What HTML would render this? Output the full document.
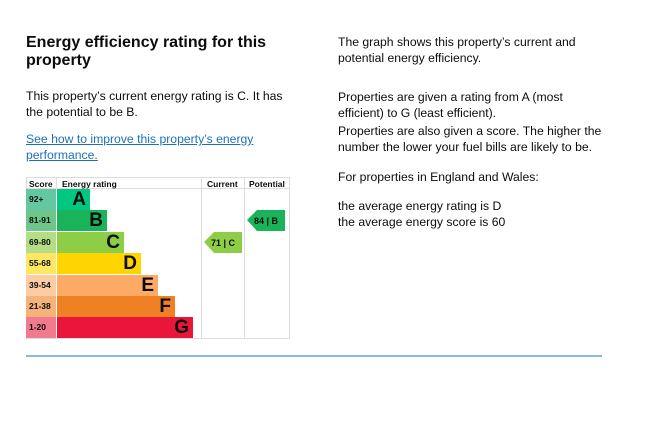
<!DOCTYPE html>
<html><head><style>
body{margin:0;width:645px;height:430px;background:#fff;font-family:"Liberation Sans",Arial,sans-serif;color:#0b0c0c;position:relative;overflow:hidden}
.t{position:absolute;white-space:nowrap}
h1{position:absolute;left:26px;top:34px;margin:0;font-size:16px;line-height:18px;font-weight:bold}
.p{font-size:12.2px;line-height:16px}
a{color:#1d70b8;text-decoration:underline}
.row{position:absolute;left:26px;height:21px;font-size:8.5px;font-weight:bold}
.sc{position:absolute;left:0;width:30px;height:21px;line-height:21px;padding-left:3px;box-sizing:border-box}
.bar{position:absolute;left:31px;height:21px;font-size:19px;line-height:22px;font-weight:bold;text-align:right;padding-right:4px;box-sizing:border-box;color:#0b0c0c}
</style></head><body>
<h1>Energy efficiency rating for this<br>property</h1>
<div class="t p" style="left:26px;top:88px">This property’s current energy rating is C. It has<br>the potential to be B.</div>
<div class="t p" style="left:26px;top:131px"><a>See how to improve this property’s energy<br>performance.</a></div>

<div class="t p" style="left:338px;top:34px">The graph shows this property’s current and<br>potential energy efficiency.</div>
<div class="t p" style="left:338px;top:89px">Properties are given a rating from A (most<br>efficient) to G (least efficient).</div>
<div class="t p" style="left:338px;top:123px">Properties are also given a score. The higher the<br>number the lower your fuel bills are likely to be.</div>
<div class="t p" style="left:338px;top:169px">For properties in England and Wales:</div>
<div class="t p" style="left:338px;top:198px">the average energy rating is D<br>the average energy score is 60</div>

<div style="position:absolute;left:26px;top:177px;width:264px;height:162px;border:1px solid #ddd;box-sizing:border-box"></div>
<div style="position:absolute;left:26px;top:188px;width:264px;height:1px;background:#ddd"></div>
<div style="position:absolute;left:56px;top:177px;width:1px;height:11px;background:#ddd"></div>
<div style="position:absolute;left:201px;top:177px;width:1px;height:162px;background:#ddd"></div>
<div style="position:absolute;left:244px;top:177px;width:1px;height:162px;background:#ddd"></div>
<div class="t" style="left:29px;top:179px;font-size:8.5px;font-weight:bold">Score</div>
<div class="t" style="left:62px;top:179px;font-size:8.5px;font-weight:bold">Energy rating</div>
<div class="t" style="left:207px;top:179px;font-size:8.5px;font-weight:bold">Current</div>
<div class="t" style="left:249px;top:179px;font-size:8.5px;font-weight:bold">Potential</div>

<div class="row" style="top:189px"><div class="sc" style="background:#64c7a1">92+</div><div class="bar" style="width:33px;background:#00c781">A</div></div>
<div class="row" style="top:210px"><div class="sc" style="background:#6dc78d">81-91</div><div class="bar" style="width:50px;background:#19b459">B</div></div>
<div class="row" style="top:232px"><div class="sc" style="background:#b4de86">69-80</div><div class="bar" style="width:67px;background:#8dce46">C</div></div>
<div class="row" style="top:253px"><div class="sc" style="background:#ffe766">55-68</div><div class="bar" style="width:84px;background:#ffd500">D</div></div>
<div class="row" style="top:275px"><div class="sc" style="background:#fdcca3">39-54</div><div class="bar" style="width:101px;background:#fcaa65">E</div></div>
<div class="row" style="top:296px"><div class="sc" style="background:#f5b37b">21-38</div><div class="bar" style="width:118px;background:#ef8023">F</div></div>
<div class="row" style="top:317px"><div class="sc" style="background:#f27a8e">1-20</div><div class="bar" style="width:136px;background:#e9153b">G</div></div>

<svg style="position:absolute;left:0;top:0" width="645" height="430">
<polygon points="204,242 214,232 242,232 242,253 214,253" fill="#8dce46"/>
<text x="211" y="246" font-family="Liberation Sans,Arial,sans-serif" font-size="9" font-weight="bold" fill="#0b0c0c">71 |  C</text>
<polygon points="247,220 257,210 285,210 285,231 257,231" fill="#19b459"/>
<text x="254" y="224" font-family="Liberation Sans,Arial,sans-serif" font-size="9" font-weight="bold" fill="#0b0c0c">84 |  B</text>
<rect x="26" y="355.5" width="576" height="1" fill="#1d70b8"/>
</svg>
</body></html>
